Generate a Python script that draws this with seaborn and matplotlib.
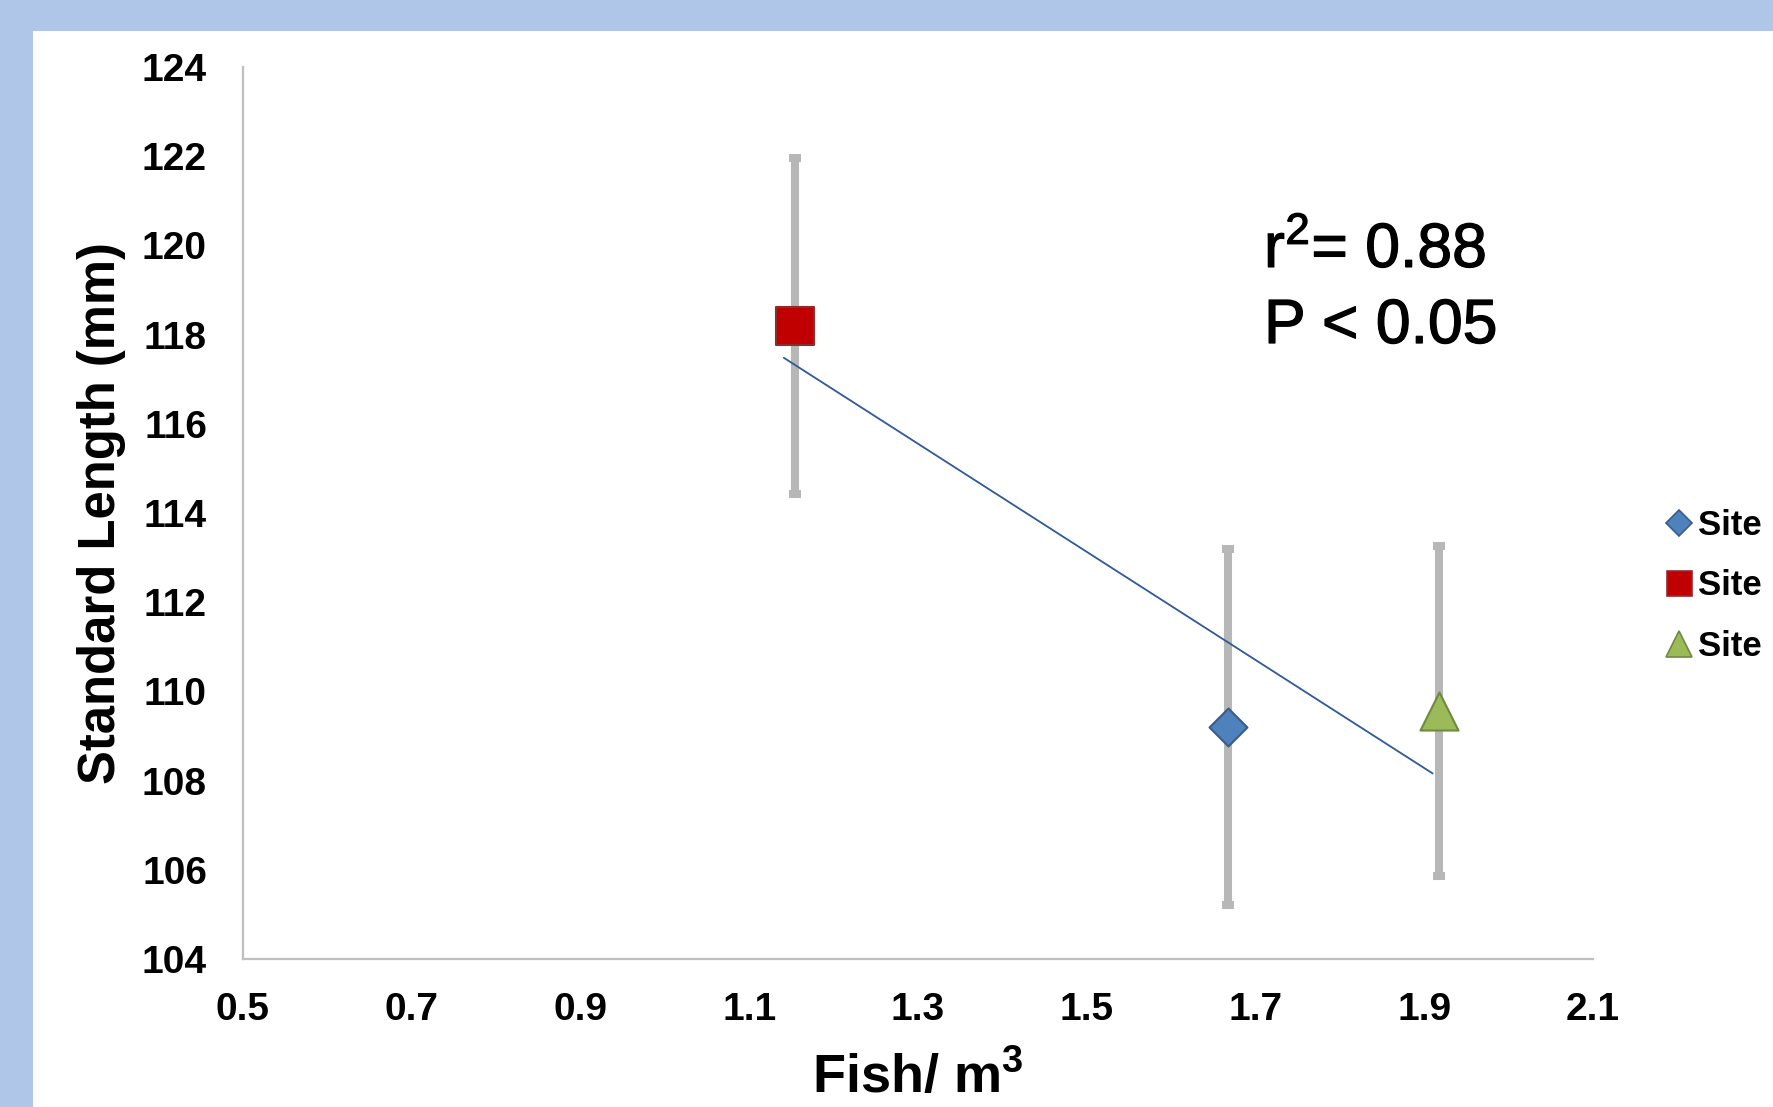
import matplotlib
matplotlib.use("Agg")
import matplotlib.pyplot as plt
import matplotlib.patheffects as pe
from matplotlib.lines import Line2D
from matplotlib.patches import Rectangle
import seaborn as sns
import pandas as pd

# ---- data ----
site_labels = ["Site", "Site", "Site"]
density = [1.667, 1.154, 1.917]          # Fish / m3
std_length = [109.21, 118.20, 109.56]    # mm
std_err = [3.99, 3.77, 3.71]
trend_x = [1.141, 1.910]
trend_y = [117.48, 108.16]
x_ticks = [0.5, 0.7, 0.9, 1.1, 1.3, 1.5, 1.7, 1.9, 2.1]
y_ticks = [104, 106, 108, 110, 112, 114, 116, 118, 120, 122, 124]
stat_lines = [r"r$\mathregular{^{2}}$= 0.88", "P < 0.05"]

# ---- styles ----
markers = ["D", "s", "^"]
face_colors = ["#4F81BD", "#C00000", "#9BBB59"]
edge_colors = ["#385D8A", "#8C2D2D", "#71893F"]
marker_sizes = [19.3, 27.4, 27.4]
legend_sizes = [13.5, 18, 18.5]

sns.set_style("white")
plt.rcParams["font.family"] = ["Liberation Sans", "DejaVu Sans"]
plt.rcParams["mathtext.fontset"] = "custom"
plt.rcParams["mathtext.rm"] = "Liberation Sans"
plt.rcParams["mathtext.bf"] = "Liberation Sans:bold"
plt.rcParams["text.color"] = "black"
plt.rcParams["axes.labelcolor"] = "black"
plt.rcParams["xtick.color"] = "black"
plt.rcParams["ytick.color"] = "black"

W, H = 1774, 1107
fig = plt.figure(figsize=(W / 100, H / 100), dpi=100)
fig.patch.set_facecolor("#B0C6E8")
fig.patches.append(Rectangle((33 / W, 0), 1 - 33 / W, 1 - 31 / H,
                             transform=fig.transFigure, facecolor="white",
                             edgecolor="none", zorder=-10))

ax = fig.add_axes([243 / W, 1 - 959 / H, 1350 / W, 892 / H])
ax.set_facecolor("none")
ax.set_zorder(1)

df = pd.DataFrame({"x": density, "y": std_length, "err": std_err})

# error bars
ax.errorbar(df["x"], df["y"], yerr=df["err"], fmt="none", ecolor="#B7B7B7",
            elinewidth=5.8, capsize=4.3, capthick=5.8, zorder=2)

# trend line
sns.lineplot(x=trend_x, y=trend_y, color="#2E5A97", linewidth=1.3, ax=ax,
             zorder=3, sort=False)

# markers
for i in range(len(density)):
    sns.scatterplot(x=[density[i]], y=[std_length[i]], marker=markers[i],
                    s=marker_sizes[i] ** 2, color=face_colors[i],
                    edgecolor=edge_colors[i], linewidth=1.5, ax=ax, zorder=4,
                    legend=False)

ax.set_xlim(0.5, 2.1)
ax.set_ylim(104, 124)
ax.set_xticks(x_ticks)
ax.set_xticklabels([f"{v:.1f}" for v in x_ticks])
ax.set_yticks(y_ticks)
ax.set_yticklabels([str(v) for v in y_ticks])
ax.tick_params(axis="both", length=0, labelsize=28, colors="black")
ax.tick_params(axis="x", pad=24)
ax.tick_params(axis="y", pad=26)
for lab in ax.get_xticklabels() + ax.get_yticklabels():
    lab.set_fontweight("bold")

for s in ["top", "right"]:
    ax.spines[s].set_visible(False)
for s in ["left", "bottom"]:
    ax.spines[s].set_color("#BFBFBF")
    ax.spines[s].set_linewidth(1.6)

ax.set_xlabel(r"Fish/ m$\mathbf{^{3}}$", fontsize=39, fontweight="bold",
              color="black")
ax.xaxis.set_label_coords(0.5, -0.104)
ax.set_ylabel("Standard Length (mm)", fontsize=36.5, fontweight="bold",
              color="black")
ax.yaxis.set_label_coords(-0.087, 0.5)

# statistics text
thick = [pe.withStroke(linewidth=0.9, foreground="black")]
fig.text(1264 / W, 1 - 267 / H, stat_lines[0], fontsize=45, va="baseline",
         ha="left", color="black", path_effects=thick)
fig.text(1264 / W, 1 - 343 / H, stat_lines[1], fontsize=45, va="baseline",
         ha="left", color="black", path_effects=thick)

# legend
handles = [Line2D([], [], linestyle="none", marker=markers[i],
                  markerfacecolor=face_colors[i], markeredgecolor=edge_colors[i],
                  markeredgewidth=1.2, markersize=legend_sizes[i])
           for i in range(3)]
leg = fig.legend(handles, site_labels, loc="upper left",
                 bbox_to_anchor=(1665 / W, 1 - 509 / H), frameon=False,
                 prop={"size": 25, "weight": "bold"}, handlelength=0.8,
                 handletextpad=0.15, labelspacing=0.79, borderpad=0,
                 borderaxespad=0)
for t in leg.get_texts():
    t.set_color("black")

fig.savefig("out.png", dpi=100, facecolor=fig.get_facecolor())
